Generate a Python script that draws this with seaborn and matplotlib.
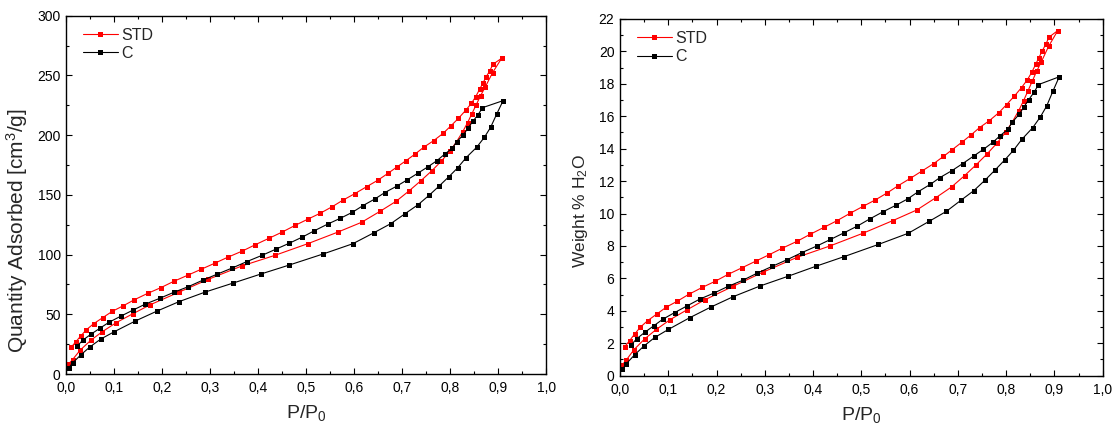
import numpy as np
import pandas as pd
import seaborn as sns
import matplotlib.pyplot as plt
from matplotlib.ticker import MultipleLocator, FuncFormatter

sns.set_style("ticks")
plt.rcParams['font.family'] = ['Liberation Sans', 'DejaVu Sans']
plt.rcParams['mathtext.fontset'] = 'custom'
plt.rcParams['mathtext.rm'] = 'Liberation Sans'
plt.rcParams['mathtext.default'] = 'regular'

# STD - adsorption branch
std_ads_x = [0.004, 0.013, 0.029, 0.051, 0.075, 0.104, 0.138, 0.175, 0.234, 0.296,
             0.366, 0.435, 0.503, 0.565, 0.615, 0.654, 0.687, 0.714, 0.738, 0.761,
             0.781, 0.799, 0.813, 0.826, 0.836, 0.845, 0.854, 0.863, 0.873, 0.888,
             0.907]
std_ads_q = [8, 12, 20, 28.2, 35.4, 43, 50.3, 58, 68.4, 79.3,
             90.5, 99.4, 109.1, 118.7, 127, 136.3, 144.6, 153.3, 161.6, 170,
             178.1, 186.5, 194.5, 203, 210.5, 218, 225.5, 233, 240.5, 252.3,
             264.4]
std_ads_w = [0.64, 0.97, 1.61, 2.27, 2.85, 3.46, 4.05, 4.67, 5.51, 6.38,
             7.29, 8.00, 8.78, 9.56, 10.22, 10.97, 11.64, 12.34, 13.01, 13.69,
             14.34, 15.01, 15.66, 16.34, 16.95, 17.55, 18.15, 18.76, 19.36, 20.31,
             21.28]

# STD - desorption branch
std_des_x = [0.889, 0.882, 0.875, 0.868, 0.861, 0.853, 0.844, 0.832, 0.817,
             0.801, 0.785, 0.765, 0.745, 0.727, 0.708, 0.688, 0.670, 0.650, 0.626,
             0.601, 0.576, 0.554, 0.529, 0.504, 0.477, 0.449, 0.422, 0.394, 0.367,
             0.336, 0.309, 0.281, 0.253, 0.224, 0.197, 0.170, 0.142, 0.119, 0.096,
             0.076, 0.057, 0.042, 0.030, 0.020, 0.010]
std_des_q = [259.4, 253.8, 249, 243.7, 238.4, 232.3, 226.7, 220.8, 214.1,
             207.7, 201.5, 195.3, 190, 184.3, 178.7, 173.1, 168, 162.5, 156.9,
             151, 145.5, 140.1, 134.6, 129.8, 124.5, 118.7, 113.6, 108.3, 103,
             97.7, 92.7, 87.7, 82.7, 77.6, 72.3, 67.6, 62.2, 57.2, 52.5,
             47.2, 42.1, 37.1, 31.8, 27, 22.4]
std_des_w = [20.88, 20.43, 20.04, 19.62, 19.19, 18.70, 18.25, 17.77, 17.24,
             16.72, 16.22, 15.72, 15.30, 14.84, 14.39, 13.93, 13.52, 13.08, 12.63,
             12.16, 11.71, 11.28, 10.84, 10.45, 10.02, 9.55, 9.14, 8.72, 8.29,
             7.86, 7.46, 7.06, 6.66, 6.25, 5.82, 5.44, 5.01, 4.60, 4.23,
             3.80, 3.39, 2.99, 2.56, 2.17, 1.80]

# C - adsorption branch
c_ads_x = [0.005, 0.013, 0.030, 0.049, 0.072, 0.100, 0.144, 0.188, 0.235, 0.290,
           0.348, 0.406, 0.465, 0.535, 0.597, 0.640, 0.676, 0.706, 0.733, 0.756,
           0.777, 0.797, 0.815, 0.833, 0.855, 0.871, 0.884, 0.897, 0.910]
c_ads_q = [5, 9.2, 15.9, 22.6, 29.3, 35.4, 44.4, 52.5, 60.6, 68.7,
           76.2, 83.8, 91.3, 100.5, 109.1, 118.1, 125.9, 134.3, 141.8, 149.7,
           157.5, 165.2, 172.5, 181.2, 189.9, 198.2, 206.6, 218, 228.9]
c_ads_w = [0.40, 0.74, 1.28, 1.82, 2.36, 2.85, 3.57, 4.23, 4.88, 5.53,
           6.13, 6.75, 7.35, 8.09, 8.78, 9.51, 10.13, 10.81, 11.41, 12.05,
           12.68, 13.30, 13.89, 14.59, 15.29, 15.96, 16.63, 17.55, 18.43]

# C - desorption branch
c_des_x = [0.867, 0.858, 0.847, 0.837, 0.827, 0.813, 0.804, 0.788, 0.772,
           0.753, 0.733, 0.710, 0.688, 0.663, 0.643, 0.618, 0.596, 0.571, 0.545,
           0.517, 0.492, 0.464, 0.436, 0.408, 0.376, 0.346, 0.315, 0.284, 0.254,
           0.224, 0.195, 0.165, 0.138, 0.113, 0.089, 0.070, 0.051, 0.035, 0.022]
c_des_q = [223, 217.2, 211.6, 206, 200.2, 194.3, 189, 184, 178.6,
           173.4, 168.3, 162.5, 157.2, 151.8, 146.6, 141, 135.4, 130.4, 125.6,
           120, 114.7, 109.4, 104.4, 99.4, 94.1, 88.8, 83.7, 78.5, 73.1,
           68.4, 63.4, 58.6, 53.3, 48.3, 43.3, 38.3, 33.2, 28.5, 23.2]
c_des_w = [17.95, 17.48, 17.03, 16.58, 16.12, 15.64, 15.21, 14.81, 14.38,
           13.96, 13.55, 13.08, 12.65, 12.22, 11.80, 11.35, 10.90, 10.50, 10.11,
           9.66, 9.23, 8.81, 8.40, 8.00, 7.58, 7.15, 6.74, 6.32, 5.88,
           5.51, 5.10, 4.72, 4.29, 3.89, 3.49, 3.08, 2.67, 2.29, 1.87]

samples = ["STD", "C"]
colors = {"STD": "#ff0000", "C": "#000000"}

df = pd.concat([
    pd.DataFrame({"p": std_ads_x + std_des_x, "q": std_ads_q + std_des_q,
                  "w": std_ads_w + std_des_w, "sample": "STD"}),
    pd.DataFrame({"p": c_ads_x + c_des_x, "q": c_ads_q + c_des_q,
                  "w": c_ads_w + c_des_w, "sample": "C"}),
], ignore_index=True)

fig = plt.figure(figsize=(11.12, 4.25), dpi=100)
ax1 = fig.add_axes([0.0596, 0.12, 0.4317, 0.843])
ax2 = fig.add_axes([0.5576, 0.116, 0.434, 0.8395])

comma = FuncFormatter(lambda v, pos: f"{v:.1f}".replace(".", ","))

panels = [
    (ax1, "q", 300, 50, 25, "Quantity Adsorbed [cm$^3$/g]", 15, -0.102, 0.40),
    (ax2, "w", 22, 2, 1, "Weight % H$_2$O", 12.5, -0.081, 0.46),
]
for ax, col, ymax, ymaj, ymin, ylab, yfs, xpos, ypos in panels:
    for s in samples:
        sub = df[df["sample"] == s]
        sns.lineplot(data=sub, x="p", y=col, ax=ax, sort=False, estimator=None,
                     color=colors[s], marker="s", markersize=3.6, markeredgewidth=0,
                     linewidth=0.8, label=s)
    ax.set_xlim(0, 1.0)
    ax.set_ylim(0, ymax)
    ax.xaxis.set_major_locator(MultipleLocator(0.1))
    ax.xaxis.set_minor_locator(MultipleLocator(0.05))
    ax.yaxis.set_major_locator(MultipleLocator(ymaj))
    ax.yaxis.set_minor_locator(MultipleLocator(ymin))
    ax.xaxis.set_major_formatter(comma)
    ax.tick_params(which="both", direction="in", top=True, right=True,
                   labelsize=10, colors="black", width=0.8)
    ax.tick_params(which="major", length=4, pad=4)
    ax.tick_params(axis="x", which="major", pad=5)
    ax.tick_params(which="minor", length=2)
    for sp in ax.spines.values():
        sp.set_linewidth(1.0)
        sp.set_color("black")
    ax.set_xlabel("P/P$_0$", fontsize=14, labelpad=6)
    ax.set_ylabel(ylab, fontsize=yfs, va="center")
    ax.yaxis.set_label_coords(xpos, ypos)
    ax.legend(loc="upper left", bbox_to_anchor=(0.028, 0.975), frameon=False,
              fontsize=11.5, handlelength=2.2, handletextpad=0.2,
              labelspacing=0.2, borderaxespad=0, borderpad=0.2)

fig.savefig("out.png", dpi=100)
